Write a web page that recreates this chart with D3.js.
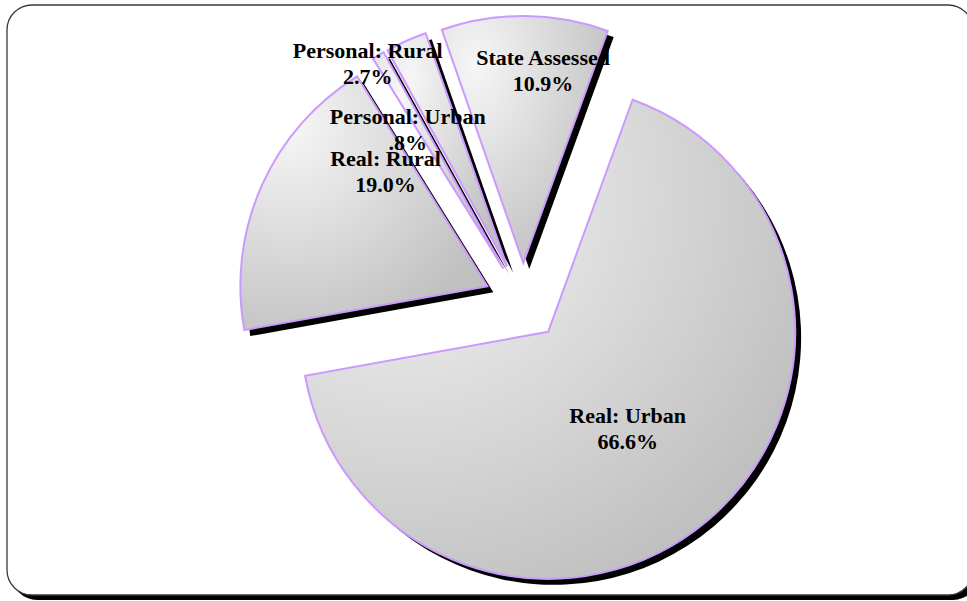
<!DOCTYPE html>
<html>
<head>
<meta charset="utf-8">
<script src="https://cdn.jsdelivr.net/npm/d3@7"></script>
<style>
  html, body { margin: 0; padding: 0; background: #fff; }
  svg { display: block; }
</style>
</head>
<body>
<script>
'use strict';

// Share of assessed value, by class
const categories = ["Real: Urban", "Real: Rural", "Personal: Urban", "Personal: Rural", "State Assessed"];
const shares = [66.6, 19.0, 0.8, 2.7, 10.9];
const valueLabels = ["66.6%", "19.0%", ".8%", "2.7%", "10.9%"];

// label nudges from the slice centroid (px), in category order
const labelNudges = [[0, 2], [11, -64.5], [-33, -32], [-89, -90], [19, -69]];

const width = 967;
const height = 601;
const cx = 523, cy = 302;
const radius = 247;
const explode = 39;
const firstAngle = 20 * Math.PI / 180;  // first slice starts a bit past 12 o'clock

const svg = d3.select("body")
  .append("svg")
  .attr("width", width)
  .attr("height", height);

const defs = svg.append("defs");
const grad = defs.append("radialGradient")
  .attr("id", "sliceFill")
  .attr("cx", 0.2).attr("cy", 0.2).attr("r", 0.9)
  .attr("fx", 0.2).attr("fy", 0.2);
grad.append("stop").attr("offset", 0).attr("stop-color", "#f6f6f6");
grad.append("stop").attr("offset", 1).attr("stop-color", "#c0c0c0");

// chart frame with its drop shadow
svg.append("rect")
  .attr("x", 12).attr("y", 10)
  .attr("width", 966).attr("height", 590)
  .attr("rx", 25).attr("ry", 25)
  .attr("fill", "#000");
svg.append("rect")
  .attr("x", 7).attr("y", 5)
  .attr("width", 966).attr("height", 590)
  .attr("rx", 25).attr("ry", 25)
  .attr("fill", "#fff")
  .attr("stroke", "#3a3a3a")
  .attr("stroke-width", 1.3);

const pie = d3.pie()
  .sort(null)
  .value((d) => d)
  .startAngle(firstAngle)
  .endAngle(firstAngle + 2 * Math.PI);

const arcs = pie(shares);

const arc = d3.arc()
  .innerRadius(0)
  .outerRadius(radius);

// offset of an exploded slice along its mid angle
function shift(d, dist) {
  const a = (d.startAngle + d.endAngle) / 2;
  return [dist * Math.sin(a), -dist * Math.cos(a)];
}

const g = svg.append("g").attr("transform", `translate(${cx},${cy})`);

// shadows first, so every slice sits above them
g.selectAll(".shadow")
  .data(arcs)
  .enter()
  .append("path")
    .attr("class", "shadow")
    .attr("d", arc)
    .attr("fill", "#000")
    .attr("transform", (d) => {
      const [dx, dy] = shift(d, explode);
      return `translate(${dx + 6},${dy + 6})`;
    });

g.selectAll(".slice")
  .data(arcs)
  .enter()
  .append("path")
    .attr("class", "slice")
    .attr("d", arc)
    .attr("fill", "url(#sliceFill)")
    .attr("stroke", "#cc99ff")
    .attr("stroke-width", 2)
    .attr("stroke-linejoin", "miter")
    .attr("transform", (d) => {
      const [dx, dy] = shift(d, explode);
      return `translate(${dx},${dy})`;
    });

const labels = g.selectAll(".label")
  .data(arcs)
  .enter()
  .append("text")
    .attr("class", "label")
    .attr("text-anchor", "middle")
    .style("font-family", "'Liberation Serif', 'Times New Roman', serif")
    .style("font-weight", "bold")
    .style("font-size", "22px")
    .attr("fill", "#000")
    .attr("transform", (d, i) => {
      const [ex, ey] = shift(d, explode);
      const [mx, my] = arc.centroid(d);
      const [nx, ny] = labelNudges[i];
      return `translate(${ex + mx + nx},${ey + my + ny})`;
    });

labels.append("tspan")
  .attr("x", 0)
  .attr("y", -5.5)
  .text((d, i) => categories[i]);

labels.append("tspan")
  .attr("x", 0)
  .attr("y", 20.5)
  .text((d, i) => valueLabels[i]);
</script>
</body>
</html>
